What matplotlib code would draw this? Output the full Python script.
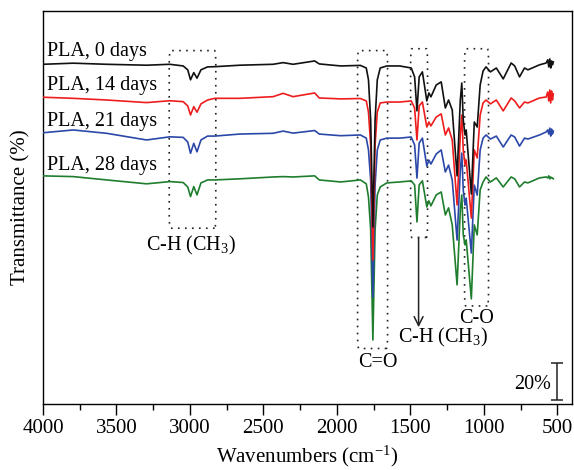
import matplotlib
matplotlib.use("Agg")
import matplotlib.pyplot as plt
from matplotlib.patches import FancyBboxPatch

plt.rcParams["font.family"] = ["Liberation Serif", "DejaVu Serif"]
plt.rcParams["mathtext.fontset"] = "custom"
plt.rcParams["mathtext.rm"] = "Liberation Serif"
plt.rcParams["mathtext.it"] = "Liberation Serif:italic"

# wavenumber grid (cm-1) shared by all spectra
wavenumbers = [
    4000, 3794, 3567, 3295, 3137, 3046, 3015, 2996, 2974, 2952,
    2925, 2880, 2831, 2661, 2434, 2366, 2298, 2151, 2120, 1974,
    1840, 1800, 1785, 1770, 1755, 1740, 1725, 1705, 1660, 1573,
    1494, 1471, 1455, 1440, 1418, 1388, 1374, 1360, 1324, 1290,
    1262, 1240, 1215, 1182, 1160, 1150, 1140, 1128, 1120, 1085,
    1065, 1045, 1025, 1005, 985, 955, 915, 868, 814, 790,
    757, 723, 700, 621, 576, 565, 558, 551, 545, 539, 533, 527,
]

# transmittance (%) before stacking
t_0days = [
    99.8, 100.4, 99.8, 99.3, 99.8, 98.9, 96.8, 91.4, 95.3, 92.3,
    96.8, 98.4, 98.5, 99.3, 99.8, 100.7, 99.8, 101.6, 100.0, 98.9,
    99.2, 97.8, 91.4, 69.7, 11.9, 69.7, 91.4, 97.8, 98.9, 98.9,
    97.8, 93.0, 74.6, 93.0, 95.7, 80.0, 84.3, 82.2, 88.6, 90.3,
    76.2, 80.5, 75.1, 39.5, 80.5, 89.7, 69.7, 61.6, 64.3, 29.7,
    68.6, 65.9, 88.6, 96.2, 98.4, 95.7, 97.8, 91.9, 100.5, 98.9,
    93.0, 97.8, 96.8, 99.5, 100.5, 102.2, 98.4, 102.7, 97.8, 101.6, 99.5, 101.1,
]
t_14days = [
    100.4, 99.8, 98.9, 97.5, 98.5, 98.0, 95.7, 90.8, 95.3, 92.3,
    96.8, 98.9, 99.8, 99.8, 100.7, 102.5, 100.7, 102.7, 100.0, 99.5,
    99.7, 98.4, 92.4, 74.6, 12.4, 74.6, 92.4, 97.3, 97.8, 97.8,
    98.4, 94.6, 77.3, 95.7, 97.8, 84.3, 87.0, 84.9, 89.7, 91.4,
    80.0, 83.8, 77.3, 42.2, 80.0, 90.8, 71.9, 63.8, 66.5, 35.1,
    71.9, 67.6, 90.8, 97.3, 98.9, 96.8, 98.9, 93.0, 100.0, 98.4,
    94.6, 97.8, 97.3, 100.0, 100.5, 103.2, 98.4, 104.3, 97.3, 103.8, 98.9, 102.2,
]
t_21days = [
    100.7, 102.2, 100.4, 96.8, 98.5, 98.2, 95.7, 89.6, 95.0, 90.4,
    96.8, 98.9, 98.9, 100.0, 100.4, 101.6, 100.5, 101.9, 100.0, 99.1,
    99.5, 97.8, 91.4, 75.1, 11.9, 72.4, 91.4, 96.8, 97.8, 97.8,
    98.4, 94.1, 76.2, 95.1, 97.8, 82.7, 85.9, 83.8, 89.2, 91.4,
    79.5, 83.2, 75.1, 42.7, 80.5, 89.7, 69.7, 61.6, 65.4, 35.7,
    72.4, 67.0, 91.4, 97.8, 99.5, 97.3, 98.9, 93.0, 99.5, 98.4,
    93.5, 97.8, 97.3, 99.5, 101.1, 102.2, 100.0, 103.2, 98.9, 102.7, 100.0, 101.6,
]
t_28days = [
    101.1, 100.7, 98.9, 96.8, 98.0, 97.5, 95.1, 89.9, 95.3, 90.8,
    97.3, 98.9, 98.9, 99.5, 100.5, 100.7, 100.5, 101.1, 98.9, 97.8,
    98.9, 96.8, 89.7, 71.9, 12.4, 71.9, 90.8, 95.1, 97.3, 97.8,
    98.4, 96.2, 76.2, 96.2, 98.4, 84.3, 87.6, 84.9, 90.8, 92.4,
    80.0, 83.8, 74.6, 42.2, 82.7, 90.8, 69.2, 63.8, 66.5, 34.6,
    74.6, 69.2, 93.5, 97.8, 100.5, 97.8, 100.0, 95.1, 100.5, 99.5,
    95.1, 97.8, 97.3, 100.0, 100.5, 100.0, 101.1, 99.5, 100.5, 100.0, 100.0, 99.5,
]

labels = ["PLA, 0 days", "PLA, 14 days", "PLA, 21 days", "PLA, 28 days"]
offsets = [83.8, 65.4, 45.9, 22.2]
colors = ["#111111", "#ee1d1d", "#2b48a8", "#1f7d2e"]
spectra = [t_0days, t_14days, t_21days, t_28days]

fig = plt.figure(figsize=(5.74, 4.70), dpi=100)
ax = fig.add_axes([0.0749, 0.1404, 0.9216, 0.8362])

for i, (t, off, c) in enumerate(zip(spectra, offsets, colors)):
    ax.plot(wavenumbers, [v + off for v in t], color=c, lw=1.2, zorder=10 - i)
    ax.text(3975, off + 100 + 1.5, labels[i], fontsize=14.5, ha="left", va="bottom")

ax.set_xlim(4000, 400)
ax.set_ylim(0, 212.4)
ax.set_xticks([4000, 3500, 3000, 2500, 2000, 1500, 1000, 500])
ax.set_xticks(range(750, 4000, 500), minor=True)
ax.tick_params(axis="x", which="major", direction="out", length=8, width=1, labelsize=15, pad=3)
ax.tick_params(axis="x", which="minor", direction="out", length=4, width=1)
ax.set_yticks([])
for s in ax.spines.values():
    s.set_linewidth(1.0)

ax.set_xlabel("Wavenumbers (cm$^{-1}$)", fontsize=15, labelpad=4)
ax.set_ylabel("Transmittance (%)", fontsize=15, labelpad=9)

# dotted boxes around the bands
boxes = [(3141, 2824, 95, 191), (1859, 1655, 30, 191), (1498, 1383, 90, 192), (1131, 968, 53, 192)]
for hi, lo, y0, y1 in boxes:
    ax.add_patch(FancyBboxPatch((lo, y0), hi - lo, y1 - y0,
                                boxstyle="round,pad=0,rounding_size=8",
                                fill=False, ec="#222222", lw=1.2,
                                ls=(0, (1, 3.2)), zorder=3))

ax.text(2990, 85.8, "C-H (CH$_3$)", fontsize=14.5, ha="center", va="center")
ax.text(1723, 22.7, "C=O", fontsize=14.5, ha="center", va="center")
ax.text(1050, 46.0, "C-O", fontsize=14.5, ha="center", va="center")
ax.text(1281, 35.7, "C-H (CH$_3$)", fontsize=14.5, ha="center", va="center")
ax.annotate("", xy=(1444, 41.5), xytext=(1444, 90),
            arrowprops=dict(arrowstyle="->", color="#222222", lw=1.1,
                            mutation_scale=16, shrinkA=0, shrinkB=0))

# 20 % scale bar
ax.errorbar([500], [12.2], yerr=[[10.0], [10.0]], fmt="none", ecolor="#222222",
            elinewidth=1.1, capsize=4, capthick=1.1)
ax.text(540, 10.8, "20%", fontsize=14.5, ha="right", va="center")

fig.savefig("out.png", dpi=100)
